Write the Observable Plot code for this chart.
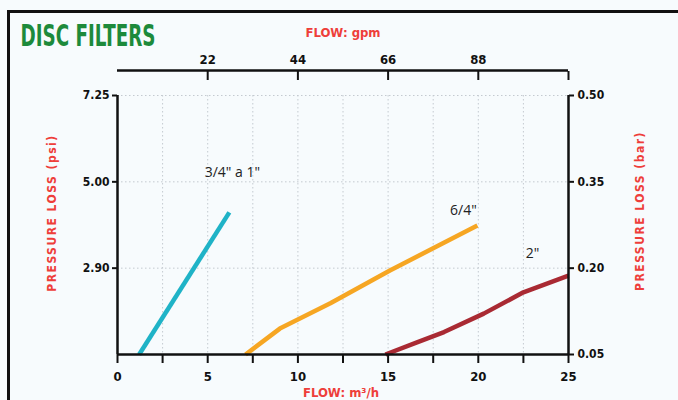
<!DOCTYPE html>
<html><head><meta charset="utf-8">
<script src="https://cdn.jsdelivr.net/npm/d3@7"></script>
<script src="https://cdn.jsdelivr.net/npm/@observablehq/plot@0.6"></script>
<style>
body{margin:0;background:#f7fbfd;}
#wrap{position:relative;width:678px;height:400px;overflow:hidden;background:#f7fbfd;}
#border{position:absolute;left:7px;top:10px;width:720px;height:440px;border-top:3px solid #111;border-left:3px solid #111;box-sizing:border-box;}
#chart{position:absolute;left:0;top:0;}
</style></head><body>
<div id="wrap"><div id="border"></div><div id="chart"></div></div>
<script>
const title = "DISC FILTERS";
const xTitle = "FLOW: m³/h";
const topTitle = "FLOW: gpm";
const yLeftTitle = "PRESSURE LOSS (psi)";
const yRightTitle = "PRESSURE LOSS (bar)";
const gpmPerM3h = 4.4;
const gpmTicks = [22, 44, 66, 88, 110];
const gpmLabels = ["22", "44", "66", "88", ""];
const flowTicks = [0, 2.5, 5, 7.5, 10, 12.5, 15, 17.5, 20, 22.5, 25];
const flowGrid = [2.5, 5, 7.5, 10, 12.5, 15, 17.5, 20, 22.5];
const barTicks = [0.05, 0.20, 0.35, 0.50];
const psiTickBar = [0.20, 0.35, 0.50];
const psiLabels = ["2.90", "5.00", "7.25"];
const series = ["3/4\" a 1\"", "6/4\"", "2\""];
const colors = ["#1fb3c7", "#f6a623", "#a92a33"];
const flowA = [1.2, 6.2];
const barA = [0.05, 0.297];
const flowB = [7.1, 9.0, 11.8, 15.1, 19.95];
const barB = [0.05, 0.095, 0.139, 0.196, 0.274];
const flowC = [14.85, 16.6, 18.1, 20.3, 22.5, 25];
const barC = [0.05, 0.071, 0.089, 0.121, 0.158, 0.187];

const table = [];
[[flowA, barA], [flowB, barB], [flowC, barC]].forEach(([fx, by], i) => {
  fx.forEach((f, j) => table.push({series: series[i], flow: f, bar: by[j]}));
});

const COND = "'Liberation Sans Narrow','DejaVu Sans Condensed','Roboto Condensed','Arial Narrow',sans-serif";
const RED = "#ee3e3a";
const gridStyle = {stroke: "#c4cad0", strokeDasharray: "1.5,2.5", strokeWidth: 1};
const bySeries = (i) => table.filter(d => d.series === series[i]);
const lbl = {fill: "#222", fontSize: 14, fontFamily: "Open Sans, sans-serif", textAnchor: "middle", lineAnchor: "middle"};

const chart = Plot.plot({
  width: 678,
  height: 400,
  marginLeft: 117,
  marginRight: 110,
  marginTop: 95,
  marginBottom: 46,
  style: {background: "transparent", fontFamily: COND, fontSize: "12px", color: "#111"},
  x: {domain: [0, 25]},
  y: {domain: [0.05, 0.5]},
  color: {domain: series, range: colors},
  marks: [
    Plot.ruleX(flowGrid, gridStyle),
    Plot.ruleY(psiTickBar, gridStyle),
    Plot.line(table, {x: "flow", y: "bar", z: "series", stroke: "series", strokeWidth: 4.5, strokeLinecap: "butt"}),
    Plot.ruleX([0], {stroke: "#111", strokeWidth: 2.5}),
    Plot.ruleX([25], {stroke: "#111", strokeWidth: 2.5}),
    Plot.ruleY([0.05], {stroke: "#111", strokeWidth: 2.5}),
    Plot.ruleY([0.5], {stroke: "#111", strokeWidth: 2.5, dy: -25}),
    Plot.axisX(flowTicks, {anchor: "bottom", tickSize: 9, tickPadding: 8, strokeWidth: 2,
      tickFormat: d => d % 5 === 0 ? String(d) : "", fontSize: 13, fontWeight: "bold", label: null}),
    Plot.axisX(gpmTicks.map(g => g / gpmPerM3h), {anchor: "top", tickSize: 9, tickPadding: 7, strokeWidth: 2, dy: -16,
      tickFormat: d => gpmLabels[gpmTicks.indexOf(Math.round(d * gpmPerM3h))], fontSize: 13, fontWeight: "bold", label: null}),
    Plot.axisY(psiTickBar, {anchor: "left", tickSize: 5, tickPadding: 3, strokeWidth: 2,
      tickFormat: d => psiLabels[psiTickBar.indexOf(d)], fontSize: 12, fontWeight: "bold", label: null}),
    Plot.axisY(barTicks, {anchor: "right", tickSize: 5, tickPadding: 4, strokeWidth: 2,
      tickFormat: d => d.toFixed(2), fontSize: 12, fontWeight: "bold", label: null}),
    Plot.text([title], {frameAnchor: "top-left", dx: -97, dy: -59, textAnchor: "start", lineAnchor: "middle", fill: "#1d8a3b",
      fontSize: 30, fontWeight: "bold", fontFamily: COND, className: "ttl"}),
    Plot.text([topTitle], {frameAnchor: "top", dy: -63, textAnchor: "middle", lineAnchor: "middle", fill: RED, fontSize: 13, fontWeight: "bold", fontFamily: COND}),
    Plot.text([xTitle], {frameAnchor: "bottom", dy: 38, dx: -2, textAnchor: "middle", lineAnchor: "middle", fill: RED, fontSize: 13, fontWeight: "bold", fontFamily: COND}),
    Plot.text([yLeftTitle], {frameAnchor: "left", dx: -65, dy: -12, rotate: -90, textAnchor: "middle", lineAnchor: "middle", fill: RED, fontSize: 12, fontWeight: "bold", fontFamily: COND, className: "ytl"}),
    Plot.text([yRightTitle], {frameAnchor: "right", dx: 72, dy: -14, rotate: -90, textAnchor: "middle", lineAnchor: "middle", fill: RED, fontSize: 12, fontWeight: "bold", fontFamily: COND, className: "ytl"}),
    Plot.text(bySeries(0), Plot.selectLast({x: "flow", y: "bar", text: "series", dx: 3, dy: -40, ...lbl})),
    Plot.text(bySeries(1), Plot.selectLast({x: "flow", y: "bar", text: "series", dx: -14, dy: -15, ...lbl})),
    Plot.text(bySeries(2), Plot.selectLast({x: "flow", y: "bar", text: "series", dx: -36, dy: -22, ...lbl}))
  ]
});
document.getElementById("chart").appendChild(chart);
d3.select(chart).selectAll(".ytl text").attr("letter-spacing", "1.5px");
d3.select(chart).selectAll(".ttl text").each(function () {
  const w = this.getComputedTextLength();
  const s = w > 0 ? 135 / w : 1;
  const t = this.getAttribute("transform") || "";
  this.setAttribute("transform", (t + " scale(" + s.toFixed(3) + ",1)").trim());
});
</script>
</body></html>
